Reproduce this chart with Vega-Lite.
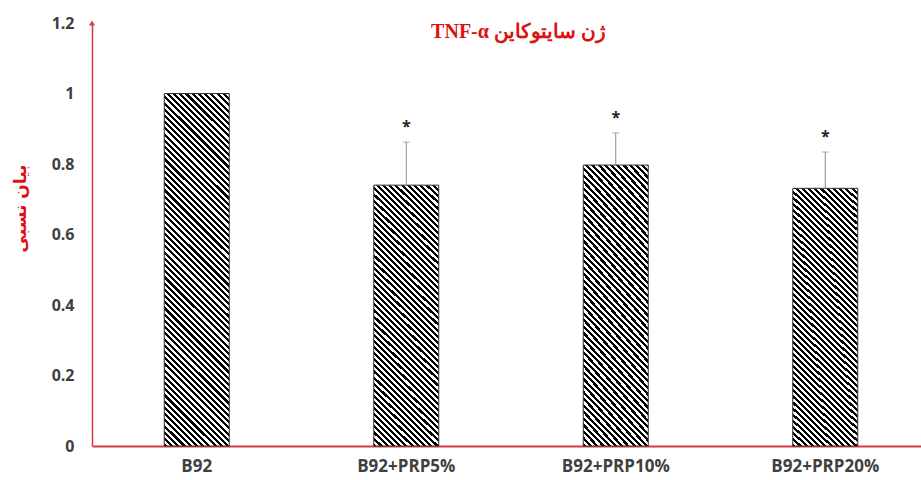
{
  "$schema": "https://vega.github.io/schema/vega-lite/v6.json",
  "width": 829,
  "height": 423,
  "autosize": {"type": "none"},
  "padding": {"left": 92, "top": 23, "right": 0, "bottom": 34},
  "background": "white",
  "config": {"view": {"stroke": null}, "font": "Open Sans"},
  "title": {
    "text": "\u202Bژن سایتوکاین TNF-α\u202C",
    "font": "Liberation Serif",
    "fontSize": 20,
    "fontWeight": "bold",
    "color": "#dd1111",
    "anchor": "middle",
    "baseline": "alphabetic",
    "offset": -14,
    "dx": 12,
    "dy": 29
  },
  "data": {
    "values": [
      {"group": "B92", "value": 1.0, "upper": null, "sig": ""},
      {"group": "B92+PRP5%", "value": 0.74, "upper": 0.862, "sig": "*"},
      {"group": "B92+PRP10%", "value": 0.797, "upper": 0.888, "sig": "*"},
      {"group": "B92+PRP20%", "value": 0.731, "upper": 0.834, "sig": "*"}
    ]
  },
  "encoding": {
    "x": {
      "field": "group",
      "type": "nominal",
      "sort": null,
      "scale": {"range": [0, 838], "paddingInner": 0, "paddingOuter": 0},
      "axis": {
        "title": null,
        "labelAngle": 0,
        "ticks": false,
        "domainColor": "#d43c3c",
        "domainWidth": 2,
        "labelFont": "Open Sans",
        "labelFontSize": 17,
        "labelFontWeight": "bold",
        "labelColor": "#404040",
        "labelPadding": 12
      }
    },
    "y": {
      "field": "value",
      "type": "quantitative",
      "scale": {"domain": [0, 1.2], "nice": false},
      "axis": {
        "title": "بیان نسبی",
        "titleFont": "DejaVu Sans",
        "titleFontSize": 17,
        "titleFontWeight": "bold",
        "titleColor": "#dd1111",
        "titleAngle": 270,
        "titleAlign": "center",
        "titleBaseline": "middle",
        "titleX": -72,
        "titleY": 185,
        "values": [0, 0.2, 0.4, 0.6, 0.8, 1, 1.2],
        "format": "~g",
        "grid": false,
        "ticks": false,
        "domainColor": "#d43c3c",
        "domainWidth": 1.5,
        "labelFont": "Open Sans",
        "labelFontSize": 16,
        "labelFontWeight": "bold",
        "labelColor": "#404040",
        "labelPadding": 18
      }
    }
  },
  "layer": [
    {
      "transform": [{"filter": "datum.group === 'B92'"}],
      "mark": {
        "type": "bar",
        "size": 65,
        "stroke": "#333333",
        "strokeWidth": 1,
        "fill": {
          "gradient": "linear", "x1": 0, "y1": 1, "x2": 0.3138, "y2": -0.7043,
          "stops": [
{"offset":0,"color":"#000"},{"offset":0.005,"color":"#000"},{"offset":0.005,"color":"#fff"},
{"offset":0.01,"color":"#fff"},{"offset":0.01,"color":"#000"},{"offset":0.015,"color":"#000"},{"offset":0.015,"color":"#fff"},
{"offset":0.02,"color":"#fff"},{"offset":0.02,"color":"#000"},{"offset":0.025,"color":"#000"},{"offset":0.025,"color":"#fff"},
{"offset":0.03,"color":"#fff"},{"offset":0.03,"color":"#000"},{"offset":0.035,"color":"#000"},{"offset":0.035,"color":"#fff"},
{"offset":0.04,"color":"#fff"},{"offset":0.04,"color":"#000"},{"offset":0.045,"color":"#000"},{"offset":0.045,"color":"#fff"},
{"offset":0.05,"color":"#fff"},{"offset":0.05,"color":"#000"},{"offset":0.055,"color":"#000"},{"offset":0.055,"color":"#fff"},
{"offset":0.06,"color":"#fff"},{"offset":0.06,"color":"#000"},{"offset":0.065,"color":"#000"},{"offset":0.065,"color":"#fff"},
{"offset":0.07,"color":"#fff"},{"offset":0.07,"color":"#000"},{"offset":0.075,"color":"#000"},{"offset":0.075,"color":"#fff"},
{"offset":0.08,"color":"#fff"},{"offset":0.08,"color":"#000"},{"offset":0.085,"color":"#000"},{"offset":0.085,"color":"#fff"},
{"offset":0.09,"color":"#fff"},{"offset":0.09,"color":"#000"},{"offset":0.095,"color":"#000"},{"offset":0.095,"color":"#fff"},
{"offset":0.1,"color":"#fff"},{"offset":0.1,"color":"#000"},{"offset":0.105,"color":"#000"},{"offset":0.105,"color":"#fff"},
{"offset":0.11,"color":"#fff"},{"offset":0.11,"color":"#000"},{"offset":0.115,"color":"#000"},{"offset":0.115,"color":"#fff"},
{"offset":0.12,"color":"#fff"},{"offset":0.12,"color":"#000"},{"offset":0.125,"color":"#000"},{"offset":0.125,"color":"#fff"},
{"offset":0.13,"color":"#fff"},{"offset":0.13,"color":"#000"},{"offset":0.135,"color":"#000"},{"offset":0.135,"color":"#fff"},
{"offset":0.14,"color":"#fff"},{"offset":0.14,"color":"#000"},{"offset":0.145,"color":"#000"},{"offset":0.145,"color":"#fff"},
{"offset":0.15,"color":"#fff"},{"offset":0.15,"color":"#000"},{"offset":0.155,"color":"#000"},{"offset":0.155,"color":"#fff"},
{"offset":0.16,"color":"#fff"},{"offset":0.16,"color":"#000"},{"offset":0.165,"color":"#000"},{"offset":0.165,"color":"#fff"},
{"offset":0.17,"color":"#fff"},{"offset":0.17,"color":"#000"},{"offset":0.175,"color":"#000"},{"offset":0.175,"color":"#fff"},
{"offset":0.18,"color":"#fff"},{"offset":0.18,"color":"#000"},{"offset":0.185,"color":"#000"},{"offset":0.185,"color":"#fff"},
{"offset":0.19,"color":"#fff"},{"offset":0.19,"color":"#000"},{"offset":0.195,"color":"#000"},{"offset":0.195,"color":"#fff"},
{"offset":0.2,"color":"#fff"},{"offset":0.2,"color":"#000"},{"offset":0.205,"color":"#000"},{"offset":0.205,"color":"#fff"},
{"offset":0.21,"color":"#fff"},{"offset":0.21,"color":"#000"},{"offset":0.215,"color":"#000"},{"offset":0.215,"color":"#fff"},
{"offset":0.22,"color":"#fff"},{"offset":0.22,"color":"#000"},{"offset":0.225,"color":"#000"},{"offset":0.225,"color":"#fff"},
{"offset":0.23,"color":"#fff"},{"offset":0.23,"color":"#000"},{"offset":0.235,"color":"#000"},{"offset":0.235,"color":"#fff"},
{"offset":0.24,"color":"#fff"},{"offset":0.24,"color":"#000"},{"offset":0.245,"color":"#000"},{"offset":0.245,"color":"#fff"},
{"offset":0.25,"color":"#fff"},{"offset":0.25,"color":"#000"},{"offset":0.255,"color":"#000"},{"offset":0.255,"color":"#fff"},
{"offset":0.26,"color":"#fff"},{"offset":0.26,"color":"#000"},{"offset":0.265,"color":"#000"},{"offset":0.265,"color":"#fff"},
{"offset":0.27,"color":"#fff"},{"offset":0.27,"color":"#000"},{"offset":0.275,"color":"#000"},{"offset":0.275,"color":"#fff"},
{"offset":0.28,"color":"#fff"},{"offset":0.28,"color":"#000"},{"offset":0.285,"color":"#000"},{"offset":0.285,"color":"#fff"},
{"offset":0.29,"color":"#fff"},{"offset":0.29,"color":"#000"},{"offset":0.295,"color":"#000"},{"offset":0.295,"color":"#fff"},
{"offset":0.3,"color":"#fff"},{"offset":0.3,"color":"#000"},{"offset":0.305,"color":"#000"},{"offset":0.305,"color":"#fff"},
{"offset":0.31,"color":"#fff"},{"offset":0.31,"color":"#000"},{"offset":0.315,"color":"#000"},{"offset":0.315,"color":"#fff"},
{"offset":0.32,"color":"#fff"},{"offset":0.32,"color":"#000"},{"offset":0.325,"color":"#000"},{"offset":0.325,"color":"#fff"},
{"offset":0.33,"color":"#fff"},{"offset":0.33,"color":"#000"},{"offset":0.335,"color":"#000"},{"offset":0.335,"color":"#fff"},
{"offset":0.34,"color":"#fff"},{"offset":0.34,"color":"#000"},{"offset":0.345,"color":"#000"},{"offset":0.345,"color":"#fff"},
{"offset":0.35,"color":"#fff"},{"offset":0.35,"color":"#000"},{"offset":0.355,"color":"#000"},{"offset":0.355,"color":"#fff"},
{"offset":0.36,"color":"#fff"},{"offset":0.36,"color":"#000"},{"offset":0.365,"color":"#000"},{"offset":0.365,"color":"#fff"},
{"offset":0.37,"color":"#fff"},{"offset":0.37,"color":"#000"},{"offset":0.375,"color":"#000"},{"offset":0.375,"color":"#fff"},
{"offset":0.38,"color":"#fff"},{"offset":0.38,"color":"#000"},{"offset":0.385,"color":"#000"},{"offset":0.385,"color":"#fff"},
{"offset":0.39,"color":"#fff"},{"offset":0.39,"color":"#000"},{"offset":0.395,"color":"#000"},{"offset":0.395,"color":"#fff"},
{"offset":0.4,"color":"#fff"},{"offset":0.4,"color":"#000"},{"offset":0.405,"color":"#000"},{"offset":0.405,"color":"#fff"},
{"offset":0.41,"color":"#fff"},{"offset":0.41,"color":"#000"},{"offset":0.415,"color":"#000"},{"offset":0.415,"color":"#fff"},
{"offset":0.42,"color":"#fff"},{"offset":0.42,"color":"#000"},{"offset":0.425,"color":"#000"},{"offset":0.425,"color":"#fff"},
{"offset":0.43,"color":"#fff"},{"offset":0.43,"color":"#000"},{"offset":0.435,"color":"#000"},{"offset":0.435,"color":"#fff"},
{"offset":0.44,"color":"#fff"},{"offset":0.44,"color":"#000"},{"offset":0.445,"color":"#000"},{"offset":0.445,"color":"#fff"},
{"offset":0.45,"color":"#fff"},{"offset":0.45,"color":"#000"},{"offset":0.455,"color":"#000"},{"offset":0.455,"color":"#fff"},
{"offset":0.46,"color":"#fff"},{"offset":0.46,"color":"#000"},{"offset":0.465,"color":"#000"},{"offset":0.465,"color":"#fff"},
{"offset":0.47,"color":"#fff"},{"offset":0.47,"color":"#000"},{"offset":0.475,"color":"#000"},{"offset":0.475,"color":"#fff"},
{"offset":0.48,"color":"#fff"},{"offset":0.48,"color":"#000"},{"offset":0.485,"color":"#000"},{"offset":0.485,"color":"#fff"},
{"offset":0.49,"color":"#fff"},{"offset":0.49,"color":"#000"},{"offset":0.495,"color":"#000"},{"offset":0.495,"color":"#fff"},
{"offset":0.5,"color":"#fff"},{"offset":0.5,"color":"#000"},{"offset":0.505,"color":"#000"},{"offset":0.505,"color":"#fff"},
{"offset":0.51,"color":"#fff"},{"offset":0.51,"color":"#000"},{"offset":0.515,"color":"#000"},{"offset":0.515,"color":"#fff"},
{"offset":0.52,"color":"#fff"},{"offset":0.52,"color":"#000"},{"offset":0.525,"color":"#000"},{"offset":0.525,"color":"#fff"},
{"offset":0.53,"color":"#fff"},{"offset":0.53,"color":"#000"},{"offset":0.535,"color":"#000"},{"offset":0.535,"color":"#fff"},
{"offset":0.54,"color":"#fff"},{"offset":0.54,"color":"#000"},{"offset":0.545,"color":"#000"},{"offset":0.545,"color":"#fff"},
{"offset":0.55,"color":"#fff"},{"offset":0.55,"color":"#000"},{"offset":0.555,"color":"#000"},{"offset":0.555,"color":"#fff"},
{"offset":0.56,"color":"#fff"},{"offset":0.56,"color":"#000"},{"offset":0.565,"color":"#000"},{"offset":0.565,"color":"#fff"},
{"offset":0.57,"color":"#fff"},{"offset":0.57,"color":"#000"},{"offset":0.575,"color":"#000"},{"offset":0.575,"color":"#fff"},
{"offset":0.58,"color":"#fff"},{"offset":0.58,"color":"#000"},{"offset":0.585,"color":"#000"},{"offset":0.585,"color":"#fff"},
{"offset":0.59,"color":"#fff"},{"offset":0.59,"color":"#000"},{"offset":0.595,"color":"#000"},{"offset":0.595,"color":"#fff"},
{"offset":0.6,"color":"#fff"},{"offset":0.6,"color":"#000"},{"offset":0.605,"color":"#000"},{"offset":0.605,"color":"#fff"},
{"offset":0.61,"color":"#fff"},{"offset":0.61,"color":"#000"},{"offset":0.615,"color":"#000"},{"offset":0.615,"color":"#fff"},
{"offset":0.62,"color":"#fff"},{"offset":0.62,"color":"#000"},{"offset":0.625,"color":"#000"},{"offset":0.625,"color":"#fff"},
{"offset":0.63,"color":"#fff"},{"offset":0.63,"color":"#000"},{"offset":0.635,"color":"#000"},{"offset":0.635,"color":"#fff"},
{"offset":0.64,"color":"#fff"},{"offset":0.64,"color":"#000"},{"offset":0.645,"color":"#000"},{"offset":0.645,"color":"#fff"},
{"offset":0.65,"color":"#fff"},{"offset":0.65,"color":"#000"},{"offset":0.655,"color":"#000"},{"offset":0.655,"color":"#fff"},
{"offset":0.66,"color":"#fff"},{"offset":0.66,"color":"#000"},{"offset":0.665,"color":"#000"},{"offset":0.665,"color":"#fff"},
{"offset":0.67,"color":"#fff"},{"offset":0.67,"color":"#000"},{"offset":0.675,"color":"#000"},{"offset":0.675,"color":"#fff"},
{"offset":0.68,"color":"#fff"}
          ]
        }
      }
    },
    {
      "transform": [{"filter": "datum.group !== 'B92'"}],
      "mark": {
        "type": "bar",
        "size": 65,
        "stroke": "#333333",
        "strokeWidth": 1,
        "fill": {
          "gradient": "linear", "x1": 0, "y1": 1, "x2": 0.5394, "y2": -1.2073,
          "stops": [
{"offset":0,"color":"#000"},{"offset":0.005,"color":"#000"},{"offset":0.005,"color":"#fff"},
{"offset":0.01,"color":"#fff"},{"offset":0.01,"color":"#000"},{"offset":0.015,"color":"#000"},{"offset":0.015,"color":"#fff"},
{"offset":0.02,"color":"#fff"},{"offset":0.02,"color":"#000"},{"offset":0.025,"color":"#000"},{"offset":0.025,"color":"#fff"},
{"offset":0.03,"color":"#fff"},{"offset":0.03,"color":"#000"},{"offset":0.035,"color":"#000"},{"offset":0.035,"color":"#fff"},
{"offset":0.04,"color":"#fff"},{"offset":0.04,"color":"#000"},{"offset":0.045,"color":"#000"},{"offset":0.045,"color":"#fff"},
{"offset":0.05,"color":"#fff"},{"offset":0.05,"color":"#000"},{"offset":0.055,"color":"#000"},{"offset":0.055,"color":"#fff"},
{"offset":0.06,"color":"#fff"},{"offset":0.06,"color":"#000"},{"offset":0.065,"color":"#000"},{"offset":0.065,"color":"#fff"},
{"offset":0.07,"color":"#fff"},{"offset":0.07,"color":"#000"},{"offset":0.075,"color":"#000"},{"offset":0.075,"color":"#fff"},
{"offset":0.08,"color":"#fff"},{"offset":0.08,"color":"#000"},{"offset":0.085,"color":"#000"},{"offset":0.085,"color":"#fff"},
{"offset":0.09,"color":"#fff"},{"offset":0.09,"color":"#000"},{"offset":0.095,"color":"#000"},{"offset":0.095,"color":"#fff"},
{"offset":0.1,"color":"#fff"},{"offset":0.1,"color":"#000"},{"offset":0.105,"color":"#000"},{"offset":0.105,"color":"#fff"},
{"offset":0.11,"color":"#fff"},{"offset":0.11,"color":"#000"},{"offset":0.115,"color":"#000"},{"offset":0.115,"color":"#fff"},
{"offset":0.12,"color":"#fff"},{"offset":0.12,"color":"#000"},{"offset":0.125,"color":"#000"},{"offset":0.125,"color":"#fff"},
{"offset":0.13,"color":"#fff"},{"offset":0.13,"color":"#000"},{"offset":0.135,"color":"#000"},{"offset":0.135,"color":"#fff"},
{"offset":0.14,"color":"#fff"},{"offset":0.14,"color":"#000"},{"offset":0.145,"color":"#000"},{"offset":0.145,"color":"#fff"},
{"offset":0.15,"color":"#fff"},{"offset":0.15,"color":"#000"},{"offset":0.155,"color":"#000"},{"offset":0.155,"color":"#fff"},
{"offset":0.16,"color":"#fff"},{"offset":0.16,"color":"#000"},{"offset":0.165,"color":"#000"},{"offset":0.165,"color":"#fff"},
{"offset":0.17,"color":"#fff"},{"offset":0.17,"color":"#000"},{"offset":0.175,"color":"#000"},{"offset":0.175,"color":"#fff"},
{"offset":0.18,"color":"#fff"},{"offset":0.18,"color":"#000"},{"offset":0.185,"color":"#000"},{"offset":0.185,"color":"#fff"},
{"offset":0.19,"color":"#fff"},{"offset":0.19,"color":"#000"},{"offset":0.195,"color":"#000"},{"offset":0.195,"color":"#fff"},
{"offset":0.2,"color":"#fff"},{"offset":0.2,"color":"#000"},{"offset":0.205,"color":"#000"},{"offset":0.205,"color":"#fff"},
{"offset":0.21,"color":"#fff"},{"offset":0.21,"color":"#000"},{"offset":0.215,"color":"#000"},{"offset":0.215,"color":"#fff"},
{"offset":0.22,"color":"#fff"},{"offset":0.22,"color":"#000"},{"offset":0.225,"color":"#000"},{"offset":0.225,"color":"#fff"},
{"offset":0.23,"color":"#fff"},{"offset":0.23,"color":"#000"},{"offset":0.235,"color":"#000"},{"offset":0.235,"color":"#fff"},
{"offset":0.24,"color":"#fff"},{"offset":0.24,"color":"#000"},{"offset":0.245,"color":"#000"},{"offset":0.245,"color":"#fff"},
{"offset":0.25,"color":"#fff"},{"offset":0.25,"color":"#000"},{"offset":0.255,"color":"#000"},{"offset":0.255,"color":"#fff"},
{"offset":0.26,"color":"#fff"},{"offset":0.26,"color":"#000"},{"offset":0.265,"color":"#000"},{"offset":0.265,"color":"#fff"},
{"offset":0.27,"color":"#fff"},{"offset":0.27,"color":"#000"},{"offset":0.275,"color":"#000"},{"offset":0.275,"color":"#fff"},
{"offset":0.28,"color":"#fff"},{"offset":0.28,"color":"#000"},{"offset":0.285,"color":"#000"},{"offset":0.285,"color":"#fff"},
{"offset":0.29,"color":"#fff"},{"offset":0.29,"color":"#000"},{"offset":0.295,"color":"#000"},{"offset":0.295,"color":"#fff"},
{"offset":0.3,"color":"#fff"},{"offset":0.3,"color":"#000"},{"offset":0.305,"color":"#000"},{"offset":0.305,"color":"#fff"},
{"offset":0.31,"color":"#fff"},{"offset":0.31,"color":"#000"},{"offset":0.315,"color":"#000"},{"offset":0.315,"color":"#fff"},
{"offset":0.32,"color":"#fff"},{"offset":0.32,"color":"#000"},{"offset":0.325,"color":"#000"},{"offset":0.325,"color":"#fff"},
{"offset":0.33,"color":"#fff"},{"offset":0.33,"color":"#000"},{"offset":0.335,"color":"#000"},{"offset":0.335,"color":"#fff"},
{"offset":0.34,"color":"#fff"},{"offset":0.34,"color":"#000"},{"offset":0.345,"color":"#000"},{"offset":0.345,"color":"#fff"},
{"offset":0.35,"color":"#fff"},{"offset":0.35,"color":"#000"},{"offset":0.355,"color":"#000"},{"offset":0.355,"color":"#fff"},
{"offset":0.36,"color":"#fff"},{"offset":0.36,"color":"#000"},{"offset":0.365,"color":"#000"},{"offset":0.365,"color":"#fff"},
{"offset":0.37,"color":"#fff"},{"offset":0.37,"color":"#000"},{"offset":0.375,"color":"#000"},{"offset":0.375,"color":"#fff"},
{"offset":0.38,"color":"#fff"},{"offset":0.38,"color":"#000"},{"offset":0.385,"color":"#000"},{"offset":0.385,"color":"#fff"},
{"offset":0.39,"color":"#fff"},{"offset":0.39,"color":"#000"},{"offset":0.395,"color":"#000"},{"offset":0.395,"color":"#fff"},
{"offset":0.4,"color":"#fff"},{"offset":0.4,"color":"#000"},{"offset":0.405,"color":"#000"},{"offset":0.405,"color":"#fff"},
{"offset":0.41,"color":"#fff"},{"offset":0.41,"color":"#000"},{"offset":0.415,"color":"#000"},{"offset":0.415,"color":"#fff"},
{"offset":0.42,"color":"#fff"},{"offset":0.42,"color":"#000"},{"offset":0.425,"color":"#000"},{"offset":0.425,"color":"#fff"},
{"offset":0.43,"color":"#fff"},{"offset":0.43,"color":"#000"},{"offset":0.435,"color":"#000"},{"offset":0.435,"color":"#fff"},
{"offset":0.44,"color":"#fff"},{"offset":0.44,"color":"#000"},{"offset":0.445,"color":"#000"},{"offset":0.445,"color":"#fff"},
{"offset":0.45,"color":"#fff"},{"offset":0.45,"color":"#000"},{"offset":0.455,"color":"#000"},{"offset":0.455,"color":"#fff"},
{"offset":0.46,"color":"#fff"},{"offset":0.46,"color":"#000"},{"offset":0.465,"color":"#000"},{"offset":0.465,"color":"#fff"},
{"offset":0.47,"color":"#fff"},{"offset":0.47,"color":"#000"},{"offset":0.475,"color":"#000"},{"offset":0.475,"color":"#fff"},
{"offset":0.48,"color":"#fff"},{"offset":0.48,"color":"#000"},{"offset":0.485,"color":"#000"},{"offset":0.485,"color":"#fff"},
{"offset":0.49,"color":"#fff"},{"offset":0.49,"color":"#000"},{"offset":0.495,"color":"#000"},{"offset":0.495,"color":"#fff"},
{"offset":0.5,"color":"#fff"},{"offset":0.5,"color":"#000"},{"offset":0.505,"color":"#000"},{"offset":0.505,"color":"#fff"},
{"offset":0.51,"color":"#fff"},{"offset":0.51,"color":"#000"},{"offset":0.515,"color":"#000"},{"offset":0.515,"color":"#fff"},
{"offset":0.52,"color":"#fff"},{"offset":0.52,"color":"#000"},{"offset":0.525,"color":"#000"},{"offset":0.525,"color":"#fff"},
{"offset":0.53,"color":"#fff"},{"offset":0.53,"color":"#000"},{"offset":0.535,"color":"#000"},{"offset":0.535,"color":"#fff"},
{"offset":0.54,"color":"#fff"}
          ]
        }
      }
    },
    {
      "transform": [{"filter": "datum.upper != null"}],
      "mark": {"type": "rule", "color": "#8c8c8c", "strokeWidth": 1},
      "encoding": {
        "y": {"field": "value", "type": "quantitative"},
        "y2": {"field": "upper"}
      }
    },
    {
      "transform": [{"filter": "datum.upper != null"}],
      "mark": {"type": "tick", "orient": "horizontal", "size": 7, "thickness": 1, "color": "#8c8c8c"},
      "encoding": {
        "y": {"field": "upper", "type": "quantitative"}
      }
    },
    {
      "transform": [{"filter": "datum.upper != null"}],
      "mark": {"type": "text", "font": "Open Sans", "fontSize": 16, "fontWeight": "bold", "color": "#222222", "baseline": "alphabetic", "dy": -10},
      "encoding": {
        "y": {"field": "upper", "type": "quantitative"},
        "text": {"field": "sig"}
      }
    },
    {
      "transform": [{"filter": "datum.group === 'B92'"}],
      "mark": {"type": "point", "shape": "triangle-up", "filled": true, "size": 35, "color": "#d43c3c", "opacity": 1},
      "encoding": {
        "x": {"field": "group", "type": "nominal", "sort": null, "bandPosition": 0},
        "y": {"datum": 1.2, "type": "quantitative"}
      }
    }
  ]
}
